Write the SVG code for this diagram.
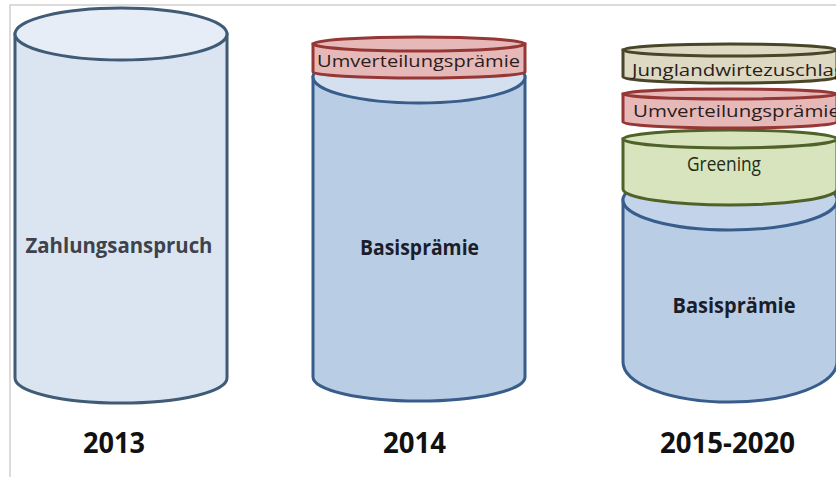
<svg xmlns="http://www.w3.org/2000/svg" width="836" height="479" viewBox="0 0 836 479">
<style>
  text { font-family: "Open Sans", "Liberation Sans", sans-serif; }
  .lbl { font-weight: bold; font-size: 21px; text-anchor: middle; }
  .band { font-size: 17px; fill: #2b1d1d; }
  .year { font-weight: bold; font-size: 29px; fill: #111; text-anchor: middle; }
  .lightcyl { fill: #dbe5f1; stroke: #3f5b76; stroke-width: 3; }
  .lighttop { fill: #e6edf6; stroke: #3f5b76; stroke-width: 3; }
  .bluecyl { fill: #b9cde5; stroke: #385d8a; stroke-width: 3; }
  .bluetop { fill: #d4e0ef; stroke: #385d8a; stroke-width: 3; }
  .red { fill: #e6b9b8; stroke: #953735; stroke-width: 3; }
  .green { fill: #d7e4bd; stroke: #4f6228; stroke-width: 3; }
  .beige { fill: #ddd9c3; stroke: #494529; stroke-width: 3; }
</style>
<rect x="0" y="0" width="836" height="479" fill="#ffffff"/>
<g id="frame" stroke="#cfcfcf" stroke-width="1.5" fill="none">
  <path d="M10,477 L10,5 L836,5"/>
</g>
<g id="cyl2013">
  <path class="lightcyl" d="M15,34 L15,378 A106,25 0 0 0 227,378 L227,34 Z"/>
  <ellipse class="lighttop" cx="121" cy="34" rx="106" ry="26"/>
  <text class="lbl" x="119" y="253" fill="#3e424b" textLength="187" lengthAdjust="spacingAndGlyphs">Zahlungsanspruch</text>
</g>
<g id="cyl2014">
  <path class="bluecyl" d="M313,77 L313,377 A106,24 0 0 0 525,377 L525,77 Z"/>
  <ellipse class="bluetop" cx="419" cy="77" rx="106" ry="26"/>
  <path class="red" d="M313,44 L313,72 A106,6 0 0 0 525,72 L525,44 Z"/>
  <ellipse class="red" cx="419" cy="44" rx="106" ry="7"/>
  <text class="band" x="317" y="67" textLength="203" lengthAdjust="spacingAndGlyphs">Umverteilungsprämie</text>
  <text class="lbl" x="419.5" y="255" fill="#1c1d2a" textLength="119" lengthAdjust="spacingAndGlyphs">Basisprämie</text>
</g>
<g id="cyl2015">
  <path class="bluecyl" d="M623,200 L623,362 A107,40 0 0 0 837,362 L837,200 Z"/>
  <ellipse class="bluetop" cx="730" cy="200" rx="107" ry="30" style="fill:#c3d4ea"/>
  <path class="green" d="M623,139 L623,189 A107,16 0 0 0 837,189 L837,139 Z"/>
  <ellipse class="green" cx="730" cy="139" rx="107" ry="9"/>
  <path class="red" d="M623,94 L623,122 A107,6 0 0 0 837,122 L837,94 Z"/>
  <ellipse class="red" cx="730" cy="94" rx="107" ry="5"/>
  <path class="beige" d="M623,50 L623,77 A107,6 0 0 0 837,77 L837,50 Z"/>
  <ellipse class="beige" cx="730" cy="50" rx="107" ry="6"/>
  <text class="band" x="632" y="76" fill="#1d1b10" textLength="213" lengthAdjust="spacingAndGlyphs">Junglandwirtezuschlag</text>
  <text class="band" x="633" y="117" textLength="207" lengthAdjust="spacingAndGlyphs">Umverteilungsprämie</text>
  <text x="724" y="171" font-size="20" fill="#1f2d1a" text-anchor="middle" textLength="74" lengthAdjust="spacingAndGlyphs">Greening</text>
  <text class="lbl" x="734" y="313" fill="#1c1d2a" textLength="123" lengthAdjust="spacingAndGlyphs">Basisprämie</text>
</g>
<g id="years">
  <text class="year" x="114" y="453" textLength="62" lengthAdjust="spacingAndGlyphs">2013</text>
  <text class="year" x="414.5" y="453" textLength="63" lengthAdjust="spacingAndGlyphs">2014</text>
  <text class="year" x="727.5" y="453" textLength="135" lengthAdjust="spacingAndGlyphs">2015-2020</text>
</g>
<g id="connectors"></g>
</svg>
